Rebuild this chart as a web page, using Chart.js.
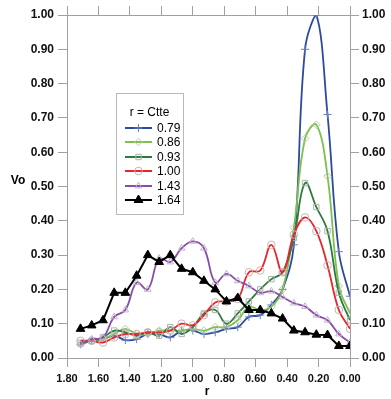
<!DOCTYPE html>
<html><head><meta charset="utf-8">
<script src="https://cdn.jsdelivr.net/npm/chart.js@4/dist/chart.umd.min.js"></script>
<style>html,body{margin:0;padding:0;background:#fff}#wrap{width:391px;height:399px}</style>
</head><body><div id="wrap"><canvas id="c" width="391" height="399"></canvas></div>
<script>
const rValues = [1.714,1.643,1.571,1.500,1.429,1.357,1.286,1.214,1.143,1.071,1.000,0.929,0.857,0.786,0.714,0.643,0.571,0.500,0.429,0.357,0.286,0.214,0.143,0.071,0.000];
const seriesLabels = ['0.79','0.86','0.93','1.00','1.43','1.64'];
const vo079 = [0.040,0.050,0.055,0.065,0.052,0.055,0.070,0.070,0.060,0.080,0.080,0.070,0.075,0.085,0.090,0.120,0.125,0.155,0.200,0.330,0.900,1.000,0.710,0.310,0.180];
const vo086 = [0.040,0.050,0.055,0.070,0.085,0.070,0.070,0.080,0.080,0.080,0.085,0.080,0.090,0.090,0.110,0.150,0.140,0.150,0.200,0.380,0.640,0.680,0.530,0.210,0.130];
const vo093 = [0.045,0.050,0.060,0.080,0.075,0.065,0.075,0.065,0.090,0.070,0.090,0.130,0.140,0.100,0.130,0.165,0.200,0.230,0.250,0.350,0.510,0.440,0.370,0.190,0.110];
const vo100 = [0.050,0.050,0.045,0.060,0.070,0.070,0.075,0.075,0.080,0.100,0.095,0.125,0.162,0.165,0.172,0.250,0.255,0.330,0.250,0.360,0.410,0.370,0.270,0.140,0.085];
const vo143 = [0.040,0.055,0.060,0.120,0.140,0.220,0.200,0.290,0.280,0.320,0.340,0.320,0.220,0.245,0.225,0.210,0.190,0.195,0.178,0.160,0.150,0.125,0.110,0.070,0.045];
const vo164 = [0.085,0.095,0.110,0.190,0.190,0.240,0.300,0.280,0.300,0.260,0.250,0.225,0.200,0.165,0.175,0.140,0.140,0.130,0.115,0.080,0.075,0.068,0.067,0.035,0.035];
const yTicks = [0,0.1,0.2,0.3,0.4,0.5,0.6,0.7,0.8,0.9,1.0];
const xTicks = [1.8,1.6,1.4,1.2,1.0,0.8,0.6,0.4,0.2,0.0];

const allValues = [vo079,vo086,vo093,vo100,vo143,vo164];
const lineColors = ['#2c4a9e','#7cc04e','#2d7a3e','#e5262b','#8a4caa','#000000'];
const markColors = ['#6a80bb','#b9c9b0','#a9b3aa','#c7b3b3','#c0b3c8','#000000'];
const styles = ['cross','rectRot','rect','circle','triangle','triangle'];
const tens = [0.4,0.4,0.4,0.4,0.4,0];

const datasets = allValues.map((vals,i)=>({
  label: seriesLabels[i],
  data: vals.map((v,j)=>({x:rValues[j], y:v})),
  showLine:true,
  borderColor: lineColors[i],
  borderWidth: i===5?2:1.8,
  tension: tens[i],
  pointStyle: styles[i],
  pointRadius: i===5?5:(i===0?4:3.8),
  pointBorderColor: markColors[i],
  pointBackgroundColor: i===5?'#000':'rgba(0,0,0,0)',
  pointBorderWidth: 1,
  xAxisID:'x', yAxisID:'y'
}));
datasets.forEach((d,i)=>{ d.order = 6-i; });

const tickFontY = {family:'"Liberation Sans", Arial, sans-serif', size:12, weight:'bold'};
const tickFontX = {family:'"Liberation Sans", Arial, sans-serif', size:11, weight:'bold'};
const gridCfg = {drawOnChartArea:false, drawTicks:true, tickLength:9, color:'#a0a0a0', lineWidth:1};
const borderCfg = {display:true, color:'#a0a0a0', width:1};

const legendPlugin = {
  id:'boxLegend',
  afterDraw(chart){
    const ctx = chart.ctx;
    ctx.save();
    const bx=116, by=93, bw=67, bh=121;
    ctx.strokeStyle='#b8b8b8'; ctx.lineWidth=1;
    ctx.strokeRect(bx+0.5,by+0.5,bw,bh);
    ctx.fillStyle='#000';
    ctx.font='12px "Liberation Sans", Arial, sans-serif';
    ctx.textAlign='center'; ctx.textBaseline='middle';
    ctx.fillText('r = Ctte', bx+bw/2, 113);
    const rows=[128,142,157,171,186,200];
    chart.data.datasets.forEach((d,i)=>{
      const y=rows[i];
      ctx.strokeStyle=d.borderColor; ctx.lineWidth=2;
      ctx.beginPath(); ctx.moveTo(125,y); ctx.lineTo(152,y); ctx.stroke();
      ctx.strokeStyle=d.pointBorderColor; ctx.fillStyle=d.pointBackgroundColor; ctx.lineWidth=1;
      Chart.helpers.drawPoint(ctx,{pointStyle:d.pointStyle, radius:d.pointRadius, borderWidth:1, rotation:0}, 138.5, y);
      ctx.fillStyle='#000';
      ctx.textAlign='left';
      ctx.fillText(d.label, 157, y+1);
    });
    ctx.font='bold 12px "Liberation Sans", Arial, sans-serif';
    ctx.textAlign='center';
    ctx.fillText('Vo', 18, 181);
    ctx.fillText('r', 207, 392);
    ctx.restore();
  }
};

new Chart(document.getElementById('c'), {
  type:'scatter',
  data:{datasets},
  options:{
    responsive:false, animation:false,
    layout:{padding:0},
    plugins:{legend:{display:false}, tooltip:{enabled:false}},
    scales:{
      x:{type:'linear', position:'bottom', reverse:true, min:0, max:1.8,
         afterBuildTicks(s){ s.ticks = xTicks.map(v=>({value:v})); },
         afterFit(s){ s.height=41; },
         ticks:{font:tickFontX, color:'#111', padding:5, maxRotation:0, callback:v=>Number(v).toFixed(2)},
         grid:gridCfg, border:borderCfg},
      x2:{type:'linear', position:'top', reverse:true, min:0, max:1.8, display:true,
         afterBuildTicks(s){ s.ticks = xTicks.map(v=>({value:v})); },
         afterFit(s){ s.height=15; },
         ticks:{display:false},
         grid:gridCfg, border:borderCfg},
      y:{type:'linear', position:'left', min:0, max:1.0,
         afterBuildTicks(s){ s.ticks = yTicks.map(v=>({value:v})); },
         afterFit(s){ s.width=67; },
         ticks:{font:tickFontY, color:'#111', padding:4, callback:v=>Number(v).toFixed(2)},
         grid:gridCfg, border:borderCfg},
      y2:{type:'linear', position:'right', min:0, max:1.0, display:true,
         afterBuildTicks(s){ s.ticks = yTicks.map(v=>({value:v})); },
         afterFit(s){ s.width=41; },
         ticks:{font:tickFontY, color:'#111', padding:3, callback:v=>Number(v).toFixed(2)},
         grid:gridCfg, border:borderCfg}
    }
  },
  plugins:[legendPlugin]
});
</script></body></html>
